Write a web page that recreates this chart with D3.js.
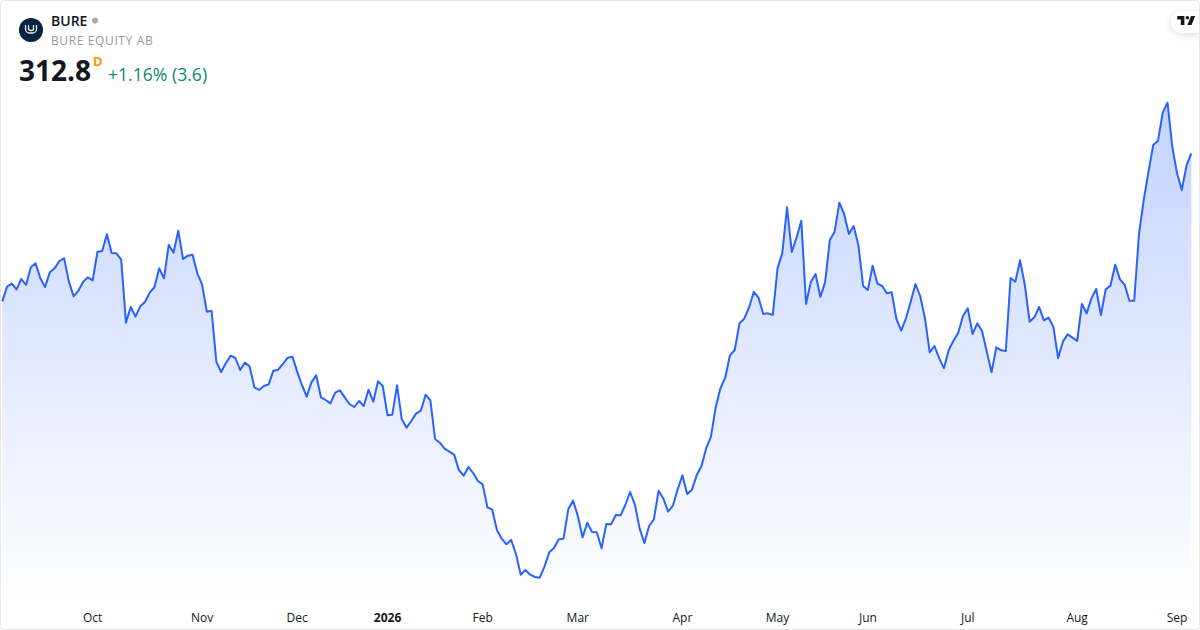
<!DOCTYPE html>
<html lang="en">

<head>
    <meta charset="UTF-8">
    <title>BURE</title>
    <style>
        html, body {
            margin: 0;
            background: #fff;
        }

        svg {
            display: block;
        }

        text {
            font-family: "Open Sans", sans-serif;
        }
    </style>
</head>

<body>
    <div id="chart"></div>

    <script src="https://d3js.org/d3.v7.min.js"></script>
    <script>
        // closing prices, one per trading day
        const closes = [
            268.4, 272.8, 273.7, 272.0, 275.1, 273.3, 278.6, 279.8, 275.3, 272.7,
            277.1, 278.3, 280.5, 281.3, 274.3, 269.9, 271.6, 274.3, 275.6, 274.7,
            283.2, 283.5, 288.5, 282.9, 282.8, 280.9, 262.0, 266.7, 263.8, 266.9,
            268.2, 271.0, 272.7, 278.3, 275.3, 285.4, 283.0, 289.6, 281.1, 282.1,
            282.4, 276.8, 273.5, 265.3, 265.6, 250.3, 247.2, 249.8, 252.1, 251.4,
            247.8, 250.0, 248.9, 242.6, 241.8, 243.0, 243.5, 247.6, 247.9, 249.6,
            251.5, 251.8, 247.3, 243.3, 239.8, 244.1, 246.2, 239.6, 238.8, 237.8,
            241.0, 241.7, 239.6, 237.6, 236.7, 238.5, 237.0, 241.9, 238.3, 244.4,
            243.0, 234.2, 234.4, 243.2, 233.0, 230.5, 232.5, 234.7, 235.6, 240.4,
            238.7, 227.1, 226.0, 224.2, 223.3, 222.4, 217.8, 216.1, 218.7, 216.9,
            214.5, 213.5, 206.6, 205.9, 199.8, 197.2, 195.5, 196.8, 192.6, 186.4,
            187.8, 186.4, 185.7, 185.5, 188.8, 193.1, 194.4, 197.0, 197.2, 206.0,
            208.6, 204.1, 197.6, 202.0, 199.2, 199.1, 194.3, 201.6, 201.5, 204.3,
            204.2, 207.3, 211.2, 207.5, 200.3, 195.9, 201.0, 203.0, 211.6, 209.2,
            205.3, 207.1, 212.0, 216.2, 210.6, 211.9, 216.2, 218.9, 224.3, 227.8,
            236.6, 242.3, 245.5, 252.2, 253.8, 261.8, 263.2, 266.5, 271.2, 269.5,
            264.6, 264.8, 264.3, 278.3, 282.8, 296.6, 283.2, 287.5, 292.6, 267.6,
            274.2, 276.6, 269.7, 274.1, 286.8, 289.3, 298.0, 294.6, 288.6, 291.0,
            285.3, 273.0, 271.8, 279.1, 273.7, 273.0, 270.8, 271.1, 263.1, 259.6,
            263.3, 268.3, 273.6, 270.0, 263.3, 253.1, 255.0, 251.3, 248.3, 253.8,
            256.6, 259.0, 264.0, 266.3, 258.6, 261.8, 259.5, 253.3, 247.1, 254.6,
            253.7, 253.5, 275.4, 274.3, 280.7, 273.3, 262.3, 263.6, 266.7, 262.7,
            263.5, 260.8, 251.4, 256.3, 258.5, 257.5, 256.5, 267.6, 264.8, 269.3,
            272.1, 264.3, 272.0, 273.1, 279.4, 275.0, 273.3, 268.6, 268.6, 288.6,
            298.8, 307.3, 315.3, 316.6, 325.0, 328.0, 314.8, 306.8, 301.8, 309.2,
            312.8
        ];

        // position of each month label, as an index into closes
        const tickIndexes = [19, 42, 62, 81, 101, 121, 143, 163, 182, 203, 226, 247];
        const tickLabels = ["Oct", "Nov", "Dec", "2026", "Feb", "Mar", "Apr", "May", "Jun", "Jul", "Aug", "Sep"];

        const width = 1200;
        const height = 630;

        const x = d3.scaleLinear()
            .domain([0, closes.length - 1])
            .range([2.3, 1191.3]);

        const y = d3.scaleLinear()
            .domain([328.8, 178.8])
            .range([100, 600]);

        const svg = d3.select("#chart")
            .append("svg")
            .attr("width", width)
            .attr("height", height);

        const defs = svg.append("defs");

        const gradient = defs.append("linearGradient")
            .attr("id", "fill")
            .attr("gradientUnits", "userSpaceOnUse")
            .attr("x1", 0).attr("x2", 0)
            .attr("y1", 100).attr("y2", 604);
        gradient.append("stop").attr("offset", 0).attr("stop-color", "#2962ff").attr("stop-opacity", 0.28);
        gradient.append("stop").attr("offset", 1).attr("stop-color", "#2962ff").attr("stop-opacity", 0);

        const shadow = defs.append("filter")
            .attr("id", "logoShadow")
            .attr("x", "-30%").attr("y", "-40%")
            .attr("width", "160%").attr("height", "200%");
        shadow.append("feDropShadow")
            .attr("dx", 0).attr("dy", 2)
            .attr("stdDeviation", 3)
            .attr("flood-color", "#000")
            .attr("flood-opacity", 0.14);

        // Area and line
        const area = d3.area()
            .x((d, i) => x(i))
            .y0(604)
            .y1(d => y(d));

        const line = d3.line()
            .x((d, i) => x(i))
            .y(d => y(d));

        svg.append("path")
            .datum(closes)
            .attr("d", area)
            .attr("fill", "url(#fill)");

        svg.append("path")
            .datum(closes)
            .attr("d", line)
            .attr("fill", "none")
            .attr("stroke", "#2962ff")
            .attr("stroke-width", 2)
            .attr("stroke-linejoin", "round");

        // Time axis
        const axis = d3.axisBottom(x)
            .tickValues(tickIndexes)
            .tickFormat((d, i) => tickLabels[i])
            .tickSize(0)
            .tickPadding(0);

        const axisG = svg.append("g")
            .attr("transform", "translate(-0.5,613)")
            .call(axis);

        axisG.select(".domain").remove();
        axisG.selectAll("text")
            .attr("font-family", "'Open Sans', sans-serif")
            .attr("font-size", 12)
            .attr("fill", "#131722")
            .attr("font-weight", (d, i) => tickLabels[i] === "2026" ? 700 : 400);

        // Header
        svg.append("circle")
            .attr("cx", 31)
            .attr("cy", 30)
            .attr("r", 12)
            .attr("fill", "#06233f");

        svg.append("path")
            .attr("d", "M25.5 25v4a4 4 0 0 0 4 4h3a4 4 0 0 0 4-4v-4M28.5 25v3.5a2 2 0 0 0 2 2h1a2 2 0 0 0 2-2v-3.5")
            .attr("fill", "none")
            .attr("stroke", "#e8edf2")
            .attr("stroke-width", 1.3);

        svg.append("text")
            .attr("x", 51)
            .attr("y", 26)
            .attr("font-size", 14)
            .attr("font-weight", 600)
            .attr("fill", "#131722")
            .text("BURE");

        svg.append("circle")
            .attr("cx", 95)
            .attr("cy", 20.5)
            .attr("r", 3)
            .attr("fill", "#a8a8a8");

        svg.append("text")
            .attr("x", 51)
            .attr("y", 45)
            .attr("font-size", 12)
            .attr("letter-spacing", 0.62)
            .attr("fill", "#9a9a9a")
            .text("BURE EQUITY AB");

        svg.append("text")
            .attr("x", 19)
            .attr("y", 81)
            .attr("font-size", 28)
            .attr("font-weight", 700)
            .attr("fill", "#131722")
            .text("312.8");

        svg.append("text")
            .attr("x", 93)
            .attr("y", 66)
            .attr("font-size", 13)
            .attr("font-weight", 700)
            .attr("fill", "#ff9800")
            .text("D");

        svg.append("text")
            .attr("x", 108)
            .attr("y", 81)
            .attr("font-size", 17.6)
            .attr("fill", "#0a8a72")
            .text("+1.16% (3.6)");

        // TradingView badge
        svg.append("path")
            .attr("d", "M1200 11H1184a13 11 0 0 0 -13 11a11 11 0 0 0 13 11H1200Z")
            .attr("fill", "#fff")
            .attr("filter", "url(#logoShadow)");

        svg.append("path")
            .attr("transform", "translate(1176,12.3) scale(0.6)")
            .attr("d", "M14 6H2v6h6v9h6V6Zm12 15h-7l6-15h7l-6 15Zm-7-9a3 3 0 1 0 0-6 3 3 0 0 0 0 6Z")
            .attr("fill", "#131722");

        // Card border
        svg.append("rect")
            .attr("x", 0.5)
            .attr("y", 0.5)
            .attr("width", width - 1)
            .attr("height", height - 1)
            .attr("rx", 4)
            .attr("fill", "none")
            .attr("stroke", "#e6e6e6");
    </script>
</body>

</html>
